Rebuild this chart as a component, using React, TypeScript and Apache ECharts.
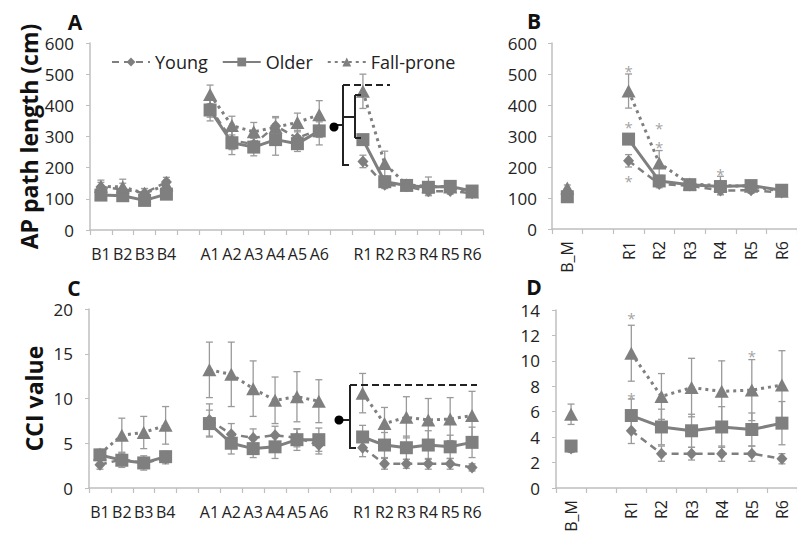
import React, { useEffect, useRef } from 'react';
import * as echarts from 'echarts';

// ---------- categories ----------
const catsLeft = ['B1', 'B2', 'B3', 'B4', '', 'A1', 'A2', 'A3', 'A4', 'A5', 'A6', '', 'R1', 'R2', 'R3', 'R4', 'R5', 'R6'];
const catsRight = ['B_M', '', 'R1', 'R2', 'R3', 'R4', 'R5', 'R6'];
const groups = ['Young', 'Older', 'Fall-prone'];

// ---------- AP path length (cm) ----------
const apYoung = [138, 130, 118, 154, null, 392, 288, 275, 334, 295, 322, null, 220, 145, 140, 124, 125, 118];
const apOlder = [112, 110, 95, 115, null, 385, 280, 266, 290, 277, 318, null, 290, 155, 143, 137, 140, 125];
const apFall = [140, 138, 118, 145, null, 435, 335, 315, 330, 345, 370, null, 445, 213, 145, 140, 138, 122];
const apYoungErr = [15, 20, 15, 15, null, 30, 30, 25, 30, 25, 25, null, 20, 12, 10, 12, 10, 10];
const apOlderErr = [15, 15, 15, 15, null, 35, 38, 28, 50, 25, 45, null, 15, 15, 12, 15, 12, 12];
const apFallErr = [20, 25, 15, 15, null, 30, 30, 30, 30, 30, 45, null, 55, 40, 15, 30, 15, 15];
const apBM = [120, 104, 132];
const apBMErr = [10, 10, 10];
const apStars: [string, number][] = [['R1', 524], ['R1', 341], ['R1', 169], ['R2', 339], ['R2', 276], ['R4', 190]];

// ---------- CCI value ----------
const cciYoung = [2.6, 3.2, 2.8, 3.3, null, 7.6, 6.0, 5.6, 5.9, 5.6, 4.8, null, 4.5, 2.7, 2.7, 2.7, 2.7, 2.3];
const cciOlder = [3.7, 3.1, 2.8, 3.5, null, 7.2, 5.0, 4.4, 4.6, 5.4, 5.4, null, 5.7, 4.8, 4.5, 4.8, 4.6, 5.1];
const cciFall = [3.8, 5.9, 6.2, 7.0, null, 13.2, 12.7, 11.1, 9.8, 10.2, 9.7, null, 10.6, 7.2, 7.9, 7.6, 7.7, 8.1];
const cciYoungErr = [0.5, 0.6, 0.5, 0.6, null, 1.8, 1.2, 1.0, 1.0, 1.0, 1.0, null, 1.0, 0.6, 0.5, 0.6, 0.6, 0.4];
const cciOlderErr = [0.6, 0.8, 0.8, 0.6, null, 1.5, 1.2, 1.0, 1.3, 1.2, 1.3, null, 1.3, 1.4, 1.3, 1.6, 1.3, 1.7];
const cciFallErr = [0.5, 1.9, 1.8, 2.1, null, 3.1, 3.6, 3.1, 2.6, 2.8, 2.4, null, 2.2, 1.8, 2.3, 2.4, 2.4, 2.7];
const cciBM = [3.1, 3.3, 5.8];
const cciBMErr = [0.3, 0.3, 0.8];
const cciStars: [string, number][] = [['R1', 13.7], ['R1', 7.4], ['R5', 10.7]];

const GRAY = '#7f7f7f';
const ERR = '#9a9a9a';
const AXIS = '#bfbfbf';
const TXT = '#222';
const FONT = 'Open Sans';

const styles = [
  { symbol: 'diamond', size: [11, 12], line: [7, 5] as any, width: 2.5 },
  { symbol: 'rect', size: 13, line: 'solid' as any, width: 3 },
  { symbol: 'triangle', size: [14, 13], line: [3, 4] as any, width: 3 },
];

// right panel arrays built from B_M value + R part of the left panel
const rightOf = (bm: number, vals: (number | null)[]) => [bm, null, ...vals.slice(12)];

function errSeries(idx: number, vals: (number | null)[], errs: (number | null)[]) {
  const data = vals
    .map((v, i) => (v == null || errs[i] == null ? null : [i, (v as number) - (errs[i] as number), (v as number) + (errs[i] as number)]))
    .filter((d) => d !== null);
  return {
    type: 'custom',
    xAxisIndex: idx,
    yAxisIndex: idx,
    silent: true,
    z: 1,
    data,
    encode: { x: 0, y: [1, 2] },
    renderItem: (_p: any, api: any) => {
      const x = api.value(0);
      const top = api.coord([x, api.value(2)]);
      const bot = api.coord([x, api.value(1)]);
      const w = 3.5;
      const style = { stroke: ERR, lineWidth: 1.3, fill: null };
      return {
        type: 'group',
        children: [
          { type: 'line', shape: { x1: top[0], y1: top[1], x2: bot[0], y2: bot[1] }, style },
          { type: 'line', shape: { x1: top[0] - w, y1: top[1], x2: top[0] + w, y2: top[1] }, style },
          { type: 'line', shape: { x1: bot[0] - w, y1: bot[1], x2: bot[0] + w, y2: bot[1] }, style },
        ],
      };
    },
  };
}

function lineSeries(idx: number, g: number, vals: (number | null)[]) {
  const s = styles[g];
  return {
    type: 'line',
    name: groups[g],
    xAxisIndex: idx,
    yAxisIndex: idx,
    data: vals,
    z: 3 + g,
    symbol: s.symbol,
    symbolSize: s.size,
    showAllSymbol: true,
    connectNulls: false,
    itemStyle: { color: GRAY },
    lineStyle: { color: GRAY, width: s.width, type: s.line },
  };
}

function starSeries(idx: number, data: [string, number][]) {
  return {
    type: 'scatter',
    xAxisIndex: idx,
    yAxisIndex: idx,
    data,
    symbolSize: 1,
    itemStyle: { color: 'rgba(0,0,0,0)' },
    z: 6,
    label: {
      show: true,
      formatter: '*',
      position: 'inside',
      fontSize: 15,
      lineHeight: 10,
      color: '#8a8a8a',
      offset: [0, 4],
      fontFamily: FONT,
    },
  };
}

function xAxis(idx: number, data: string[], rotate: number, margin: number) {
  return {
    type: 'category',
    gridIndex: idx,
    data,
    boundaryGap: true,
    axisLine: { lineStyle: { color: AXIS, width: 1.5 } },
    axisTick: { show: true, length: 5, interval: 0, lineStyle: { color: AXIS, width: 1.2 } },
    axisLabel: { interval: 0, rotate, margin, fontSize: 16, color: TXT, fontFamily: FONT },
    splitLine: { show: false },
  };
}

function yAxis(idx: number, max: number, interval: number, name: string, nameGap: number, margin: number) {
  return {
    type: 'value',
    gridIndex: idx,
    min: 0,
    max,
    interval,
    name,
    nameLocation: 'middle',
    nameGap,
    nameTextStyle: { fontSize: 23, fontWeight: 'bold', color: '#111', fontFamily: FONT },
    axisLine: { show: true, lineStyle: { color: AXIS, width: 1.5 } },
    axisTick: { show: true, length: 4, lineStyle: { color: AXIS } },
    axisLabel: { fontSize: 17, color: TXT, margin, fontFamily: FONT },
    splitLine: { show: false },
  };
}

export default function App() {
  const ref = useRef<HTMLDivElement>(null);
  useEffect(() => {
    if (!ref.current) return;
    const chart = echarts.init(ref.current, null, { renderer: 'svg' });

    const apL = [apYoung, apOlder, apFall];
    const apLE = [apYoungErr, apOlderErr, apFallErr];
    const cciL = [cciYoung, cciOlder, cciFall];
    const cciLE = [cciYoungErr, cciOlderErr, cciFallErr];

    const series: any[] = [];
    for (let g = 0; g < 3; g++) {
      series.push(errSeries(0, apL[g], apLE[g]));
      series.push(errSeries(1, rightOf(apBM[g], apL[g]), rightOf(apBMErr[g], apLE[g])));
      series.push(errSeries(2, cciL[g], cciLE[g]));
      series.push(errSeries(3, rightOf(cciBM[g], cciL[g]), rightOf(cciBMErr[g], cciLE[g])));
    }
    for (let g = 0; g < 3; g++) {
      series.push(lineSeries(0, g, apL[g]));
      series.push(lineSeries(1, g, rightOf(apBM[g], apL[g])));
      series.push(lineSeries(2, g, cciL[g]));
      series.push(lineSeries(3, g, rightOf(cciBM[g], cciL[g])));
    }
    series.push(starSeries(1, apStars));
    series.push(starSeries(3, cciStars));

    const K = '#222';
    const ln = (x1: number, y1: number, x2: number, y2: number, dash?: number[]) => ({
      type: 'line',
      shape: { x1, y1, x2, y2 },
      style: { stroke: K, lineWidth: 2, lineDash: dash },
      z: 10,
    });
    const letter = (t: string, x: number, y: number) => ({
      type: 'text',
      x,
      y,
      style: { text: t, fontSize: 21, lineHeight: 15, fontWeight: 'bold', fill: '#111', fontFamily: FONT, textAlign: 'center', textVerticalAlign: 'middle' },
      z: 10,
    });

    chart.setOption({
      animation: false,
      backgroundColor: '#fff',
      textStyle: { fontFamily: FONT },
      grid: [
        { left: 90, top: 43, width: 393, height: 187 },
        { left: 552, top: 43, width: 253, height: 186 },
        { left: 89, top: 309, width: 394, height: 179 },
        { left: 556, top: 310, width: 250, height: 178 },
      ],
      xAxis: [
        xAxis(0, catsLeft, 0, 16),
        xAxis(1, catsRight, 90, 12),
        xAxis(2, catsLeft, 0, 16),
        xAxis(3, catsRight, 90, 12),
      ],
      yAxis: [
        yAxis(0, 600, 100, 'AP path length (cm)', 50, 16),
        yAxis(1, 600, 100, '', 0, 15),
        yAxis(2, 20, 5, 'CCI value', 44, 16),
        yAxis(3, 14, 2, '', 0, 16),
      ],
      legend: {
        data: groups,
        left: 106,
        top: 48,
        itemWidth: 38,
        itemHeight: 11,
        itemGap: 14,
        textStyle: { fontSize: 18, color: TXT, fontFamily: FONT },
      },
      graphic: [
        letter('A', 75, 22),
        letter('B', 534, 21),
        letter('C', 74, 288),
        letter('D', 534, 287),
        // panel A brackets
        ln(343, 85, 343, 165),
        ln(343, 85, 390, 85, [7, 4]),
        ln(342, 165, 349, 165),
        ln(334, 125, 343, 125),
        ln(343, 117, 355, 117),
        ln(355, 95, 355, 138),
        ln(355, 95, 361, 95),
        ln(355, 138, 361, 138),
        { type: 'circle', shape: { cx: 334, cy: 127, r: 4.5 }, style: { fill: '#000' }, z: 10 },
        // panel C bracket
        ln(350, 385, 350, 448),
        ln(350, 385, 477, 385, [7, 4]),
        ln(349, 448, 356, 448),
        ln(339, 420, 350, 420),
        { type: 'circle', shape: { cx: 339, cy: 420, r: 4.5 }, style: { fill: '#000' }, z: 10 },
      ],
      series,
    } as any);
    return () => chart.dispose();
  }, []);
  return <div ref={ref} style={{ position: 'fixed', left: 0, top: 0, width: 797, height: 539, background: '#fff' }} />;
}
